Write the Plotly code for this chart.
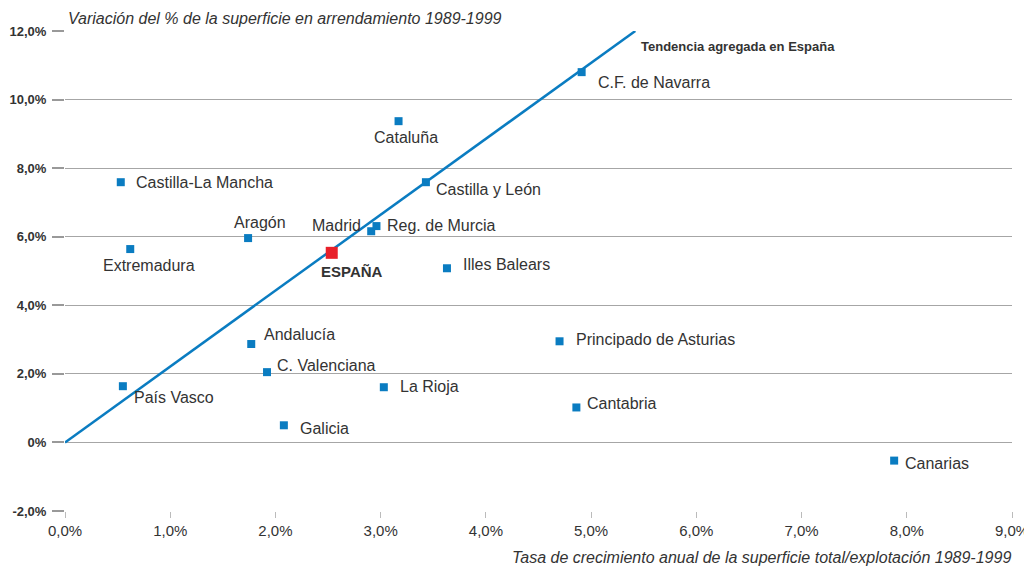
import plotly.graph_objects as go

regions = ["C.F. de Navarra", "Cataluña", "Castilla-La Mancha", "Castilla y León", "Aragón",
           "Madrid", "Reg. de Murcia", "Extremadura", "Illes Balears", "Andalucía",
           "C. Valenciana", "País Vasco", "La Rioja", "Galicia", "Principado de Asturias",
           "Cantabria", "Canarias"]
growth = [4.91, 3.17, 0.53, 3.43, 1.74, 2.91, 2.96, 0.62, 3.63, 1.77, 1.92, 0.55, 3.03, 2.08, 4.70, 4.86, 7.88]
lease = [10.80, 9.37, 7.59, 7.59, 5.96, 6.16, 6.31, 5.64, 5.08, 2.87, 2.05, 1.64, 1.61, 0.50, 2.95, 1.02, -0.53]

spain_name = "ESPAÑA"
spain_growth = [2.535]
spain_lease = [5.53]

trend_x = [0.0, 5.42]
trend_y = [0.0, 12.0]
trend_label = "Tendencia agregada en España"

x_ticks = [0, 1, 2, 3, 4, 5, 6, 7, 8, 9]
x_ticktext = ["0,0%", "1,0%", "2,0%", "3,0%", "4,0%", "5,0%", "6,0%", "7,0%", "8,0%", "9,0%"]
y_ticks = [-2, 0, 2, 4, 6, 8, 10, 12]
y_ticktext = ["-2,0%", "0%", "2,0%", "4,0%", "6,0%", "8,0%", "10,0%", "12,0%"]

y_title = "Variación del % de la superficie en arrendamiento 1989-1999"
x_title = "Tasa de crecimiento anual de la superficie total/explotación 1989-1999"

# label placement: (xanchor, xshift, yshift)
placement = {
    "C.F. de Navarra": ("left", 15, -10),
    "Cataluña": ("center", 7, -16),
    "Castilla-La Mancha": ("left", 14, 0),
    "Castilla y León": ("left", 9, -7),
    "Aragón": ("center", 12, 16),
    "Madrid": ("right", -9, 6),
    "Reg. de Murcia": ("left", 10, 1),
    "Extremadura": ("center", 19, -16),
    "Illes Balears": ("left", 15, 4),
    "Andalucía": ("left", 12, 10),
    "C. Valenciana": ("left", 9, 7),
    "País Vasco": ("left", 10, -11),
    "La Rioja": ("left", 15, 1),
    "Galicia": ("left", 15, -3),
    "Principado de Asturias": ("left", 15, 2),
    "Cantabria": ("left", 10, 4),
    "Canarias": ("left", 10, -3),
}

BLUE = "#0a7cc1"
RED = "#e8202a"
TXT = "#333333"
GRID = "#a6a6a6"
FONT = "Liberation Sans, Arial, sans-serif"

fig = go.Figure()
fig.add_trace(go.Scatter(x=trend_x, y=trend_y, mode="lines",
                         line=dict(color=BLUE, width=2.5), hoverinfo="skip", showlegend=False))
fig.add_trace(go.Scatter(x=growth, y=lease, mode="markers", text=regions,
                         marker=dict(symbol="square", size=8, color=BLUE),
                         showlegend=False))
fig.add_trace(go.Scatter(x=spain_growth, y=spain_lease, mode="markers", text=[spain_name],
                         marker=dict(symbol="square", size=12, color=RED),
                         showlegend=False))

for name, gx, ly in zip(regions, growth, lease):
    xa, xs, ys = placement[name]
    fig.add_annotation(x=gx, y=ly, text=name, showarrow=False, xanchor=xa, yanchor="middle",
                       xshift=xs, yshift=ys, borderpad=0,
                       font=dict(family=FONT, size=16, color=TXT))

fig.add_annotation(x=spain_growth[0], y=spain_lease[0], text="<b>" + spain_name + "</b>",
                   showarrow=False, xanchor="center", yanchor="middle", xshift=20, yshift=-19,
                   borderpad=0, font=dict(family=FONT, size=15, color=TXT))

fig.add_annotation(x=trend_x[1], y=trend_y[1], text="<b>" + trend_label + "</b>",
                   showarrow=False, xanchor="left", yanchor="middle", xshift=5, yshift=-15,
                   borderpad=0, font=dict(family=FONT, size=13, color=TXT))

fig.add_annotation(xref="paper", yref="paper", x=0, y=1, text="<i>" + y_title + "</i>",
                   showarrow=False, xanchor="left", yanchor="bottom", xshift=2, yshift=3,
                   borderpad=0, font=dict(family=FONT, size=16, color=TXT))
fig.add_annotation(xref="paper", yref="paper", x=1, y=0, text="<i>" + x_title + "</i>",
                   showarrow=False, xanchor="right", yanchor="top", yshift=-37,
                   borderpad=0, font=dict(family=FONT, size=16, color=TXT))

fig.update_xaxes(range=[0, 9], tickvals=x_ticks, ticktext=x_ticktext, showgrid=False,
                 zeroline=False, showline=False, ticks="outside", ticklen=6, tickwidth=1,
                 tickcolor="#bbbbbb", automargin=False,
                 tickfont=dict(family=FONT, size=15, color=TXT))
fig.update_yaxes(range=[-2, 12], tickvals=y_ticks, ticktext=["<b>" + t + "</b>" for t in y_ticktext],
                 showgrid=True, gridcolor=GRID, gridwidth=1, zeroline=False, showline=False,
                 ticks="outside", ticklen=12, tickwidth=2, tickcolor="#999999",
                 ticklabelstandoff=3, automargin=False,
                 tickfont=dict(family=FONT, size=13, color=TXT))

fig.update_layout(width=1024, height=558, margin=dict(l=57, r=20, t=23, b=55),
                  plot_bgcolor="white", paper_bgcolor="white", font=dict(family=FONT, color=TXT))

fig.write_html("out.html")
